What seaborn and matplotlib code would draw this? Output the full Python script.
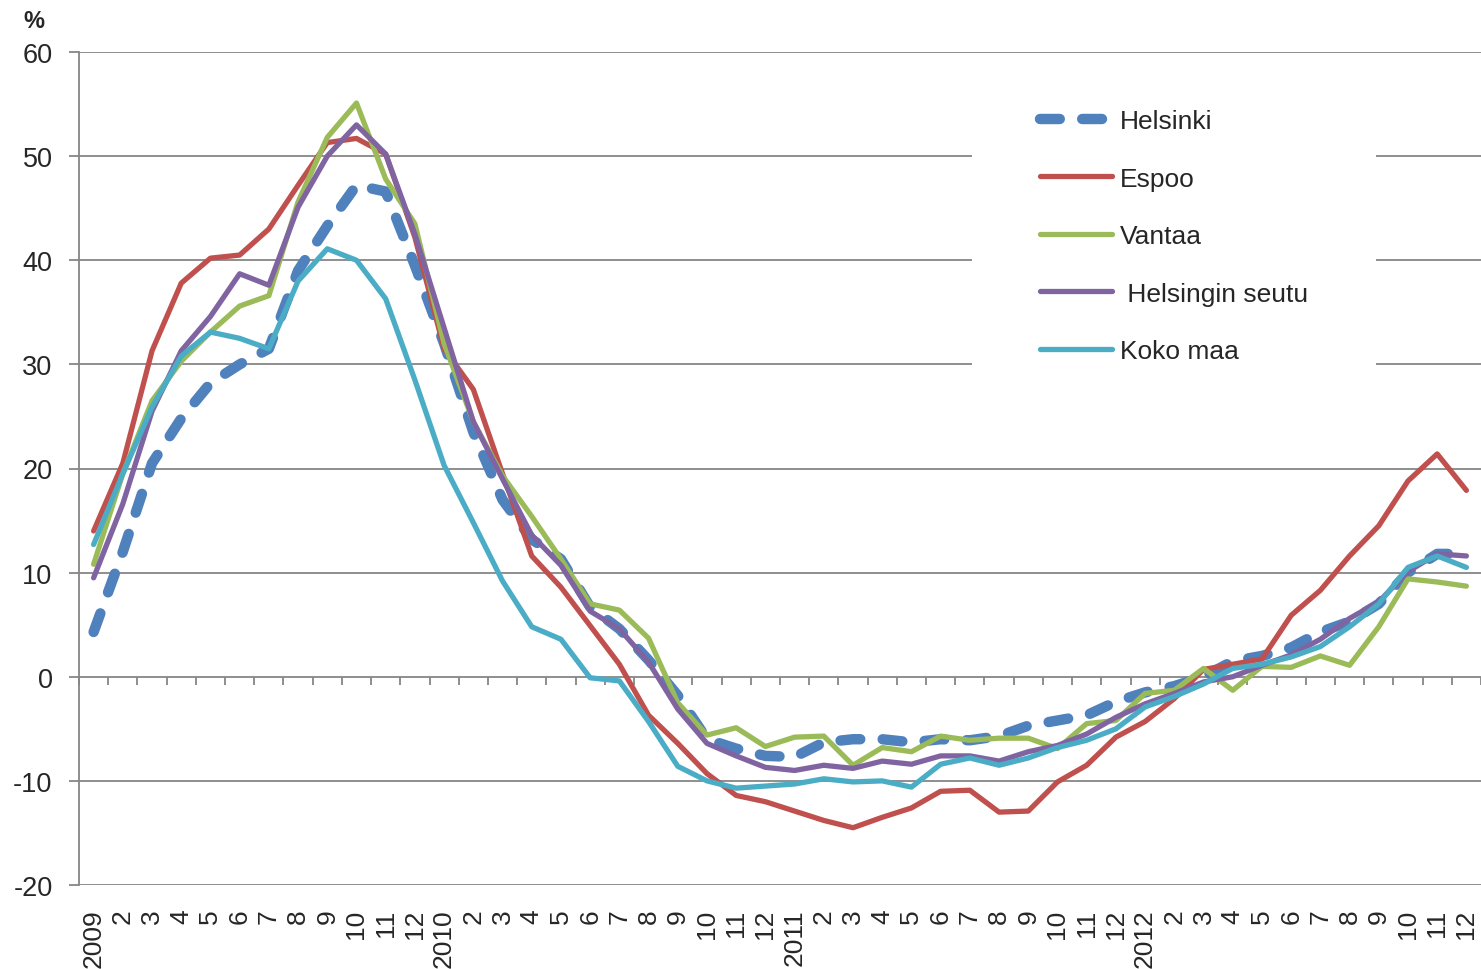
import numpy as np
import pandas as pd
import seaborn as sns
import matplotlib.pyplot as plt
from matplotlib.patches import Rectangle

# monthly change, % (2009-01 .. 2012-12)
years = ["2009", "2010", "2011", "2012"]
helsinki = [4.3, 12.0, 20.5, 24.8, 28.2, 30.0, 31.5, 39.0, 43.3, 47.2, 46.6, 39.5,
            32.0, 23.5, 17.0, 13.2, 11.3, 6.7, 4.6, 1.6, -1.8, -6.0, -6.9, -7.6,
            -7.7, -6.3, -6.0, -6.0, -6.3, -6.0, -6.1, -5.7, -4.7, -4.2, -3.7, -2.4,
            -1.5, -0.9, 0.0, 1.5, 2.0, 2.8, 4.3, 5.3, 7.0, 10.0, 11.8, 11.8]
espoo = [14.0, 20.5, 31.3, 37.8, 40.2, 40.5, 43.0, 47.2, 51.3, 51.7, 50.2, 42.2,
         31.5, 27.6, 19.5, 11.6, 8.6, 4.9, 1.2, -3.7, -6.4, -9.3, -11.4, -12.0,
         -12.9, -13.8, -14.5, -13.5, -12.6, -11.0, -10.9, -13.0, -12.9, -10.1, -8.5, -5.8,
         -4.3, -2.1, 0.7, 1.2, 1.7, 5.9, 8.3, 11.6, 14.5, 18.8, 21.4, 17.9]
vantaa = [10.8, 19.5, 26.5, 30.3, 33.1, 35.6, 36.6, 45.6, 51.8, 55.1, 47.8, 43.5,
          32.0, 24.5, 19.3, 15.4, 11.3, 7.0, 6.4, 3.7, -2.5, -5.6, -4.9, -6.7,
          -5.8, -5.7, -8.5, -6.8, -7.2, -5.7, -6.1, -5.9, -5.9, -6.9, -4.5, -4.2,
          -1.6, -1.3, 0.8, -1.3, 1.0, 0.9, 2.0, 1.1, 4.8, 9.4, 9.1, 8.7]
seutu = [9.5, 16.6, 25.5, 31.3, 34.6, 38.7, 37.6, 45.1, 50.0, 53.0, 50.2, 42.5,
         33.5, 24.5, 19.0, 13.6, 10.7, 6.3, 4.6, 1.4, -3.1, -6.4, -7.6, -8.7,
         -9.0, -8.5, -8.8, -8.1, -8.4, -7.6, -7.6, -8.1, -7.2, -6.6, -5.5, -3.9,
         -2.6, -1.6, -0.5, 0.0, 1.1, 2.1, 3.6, 5.6, 7.2, 10.1, 11.8, 11.6]
koko_maa = [12.7, 19.5, 25.9, 30.8, 33.1, 32.5, 31.5, 38.0, 41.1, 40.0, 36.3, 28.5,
            20.3, 14.8, 9.2, 4.8, 3.6, -0.1, -0.4, -4.3, -8.6, -10.0, -10.7, -10.5,
            -10.3, -9.8, -10.1, -10.0, -10.6, -8.4, -7.8, -8.5, -7.8, -6.8, -6.1, -5.0,
            -2.9, -1.9, -0.7, 0.8, 1.2, 1.9, 2.9, 4.8, 7.0, 10.5, 11.6, 10.5]

tick_labels = []
for y in years:
    tick_labels += [y] + [str(m) for m in range(2, 13)]

series = [
    ("Helsinki", helsinki, "#4F81BD"),
    ("Espoo", espoo, "#C0504D"),
    ("Vantaa", vantaa, "#9BBB59"),
    (" Helsingin seutu", seutu, "#8064A2"),
    ("Koko maa", koko_maa, "#4BACC6"),
]

sns.set_style("white")
plt.rcParams["font.family"] = ["Liberation Sans", "DejaVu Sans"]
plt.rcParams["axes.unicode_minus"] = False

fig = plt.figure(figsize=(14.81, 9.70), dpi=100)
ax = fig.add_axes([79 / 1481, 84 / 970, 1402 / 1481, 833 / 970])

x = np.arange(len(tick_labels))
for name, vals, color in series:
    df = pd.DataFrame({"month": x, "value": vals})
    if name == "Helsinki":
        sns.lineplot(data=df, x="month", y="value", ax=ax, color=color, lw=7.5,
                     label=name, linestyle=(0, (1.9, 2.15)),
                     dash_capstyle="round", solid_joinstyle="round", zorder=3)
    else:
        sns.lineplot(data=df, x="month", y="value", ax=ax, color=color, lw=3.8,
                     label=name, solid_joinstyle="round", zorder=3)

grid_c = "#868686"
ax.set_xlim(-0.5, 47.5)
ax.set_ylim(-20, 60)
ax.set_yticks(range(-20, 61, 10))
ax.set_axisbelow(True)
ax.grid(axis="y", color=grid_c, lw=1.3)
ax.grid(axis="x", visible=False)
for s in ["top", "right", "bottom"]:
    ax.spines[s].set_visible(False)
ax.spines["left"].set_color(grid_c)
ax.spines["left"].set_linewidth(1.3)

ax.set_xticks(x)
ax.set_xticklabels(tick_labels, rotation=90)
ax.tick_params(axis="x", length=0, pad=17, labelsize=19)
ax.tick_params(axis="y", left=True, length=7, width=1.3, color=grid_c,
               direction="out", pad=12, labelsize=19.5)
ax.set_xlabel("")
ax.set_ylabel("")

# tick marks on the zero line
sec = ax.secondary_xaxis(0.25)
sec.set_xticks(np.arange(-0.5, 48, 1))
sec.xaxis.set_ticks_position("bottom")
sec.tick_params(axis="x", direction="out", length=6, width=1.3, color=grid_c,
                labelbottom=False, labeltop=False)
for s in sec.spines.values():
    s.set_visible(False)

# white box behind legend
ax.add_patch(Rectangle((893 / 1402, 491 / 833), 404 / 1402, 315 / 833,
                       transform=ax.transAxes, facecolor="white",
                       edgecolor="none", zorder=1))
ax.legend(loc="upper left", bbox_to_anchor=(961 / 1402, 776 / 833),
          frameon=False, fontsize=19, handlelength=2.73, handletextpad=0.3,
          labelspacing=1.27, borderpad=0, borderaxespad=0)

fig.text(34 / 1481, 1 - 22 / 970, "%", fontsize=17, fontweight="bold",
         ha="center", va="center")

fig.savefig("out.png", dpi=100)
